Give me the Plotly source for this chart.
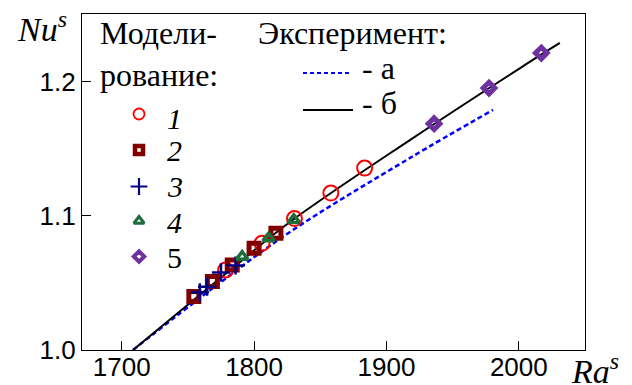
import plotly.graph_objects as go

# ---- simulation results (Ra^s, Nu^s) ----
ra_1 = [1778.5, 1806.0, 1830.5, 1858.0, 1883.5]
nu_1 = [1.0597, 1.0796, 1.0980, 1.1170, 1.1356]

ra_2 = [1754.5, 1768.5, 1783.5, 1800.0, 1816.5]
nu_2 = [1.0398, 1.0510, 1.0634, 1.0759, 1.0871]

ra_3 = [1759.0, 1764.5, 1775.0, 1786.0]
nu_3 = [1.0430, 1.0472, 1.0578, 1.0630]

ra_4 = [1791.0, 1811.0, 1830.0]
nu_4 = [1.0696, 1.0834, 1.0970]

ra_5 = [1936.0, 1977.5, 2017.0]
nu_5 = [1.1687, 1.1953, 1.2214]

# ---- experimental correlations ----
ra_exp_a = [1708.5, 1770.0, 1827.6, 1917.5, 1980.5]
nu_exp_a = [1.0000, 1.0470, 1.0883, 1.1430, 1.1790]

ra_exp_b = [1708.5, 1782.0, 1827.6, 1918.0, 2001.0, 2031.0]
nu_exp_b = [1.0000, 1.0597, 1.0958, 1.1567, 1.2102, 1.2289]

x_ticks = [1700, 1800, 1900, 2000]
y_ticks = [1.0, 1.1, 1.2]
y_tick_text = ["1.0", "1.1", "1.2"]

legend_numbers = ["<i>1</i>", "<i>2</i>", "<i>3</i>", "<i>4</i>", "5"]

RED = "#ff0000"
MAROON = "#800000"
NAVY = "#000080"
GREEN = "#1e6e3c"
PURPLE = "#6e32a0"
BLUE = "#0000ff"

W, H = 632, 385
ML, MR, MT, MB = 82, 47, 14, 35
PW, PH = W - ML - MR, H - MT - MB


def px(x):
    return (x - ML) / PW


def py(y):
    return (H - MB - y) / PH


fig = go.Figure()

# experimental curves
fig.add_trace(go.Scatter(x=ra_exp_a, y=nu_exp_a, mode="lines", line_shape="spline",
                         line=dict(color=BLUE, width=2.5, dash="5px,3px"),
                         showlegend=False, hoverinfo="skip"))
fig.add_trace(go.Scatter(x=ra_exp_b, y=nu_exp_b, mode="lines", line_shape="spline",
                         line=dict(color="black", width=2),
                         showlegend=False, hoverinfo="skip"))

series = [
    (ra_1, nu_1, dict(symbol="circle-open", size=15, color=RED, line=dict(width=2, color=RED))),
    (ra_2, nu_2, dict(symbol="square-open", size=10, color=MAROON, line=dict(width=5, color=MAROON))),
    (ra_3, nu_3, dict(symbol="cross-thin-open", size=13, color=NAVY, line=dict(width=2.5, color=NAVY))),
    (ra_4, nu_4, dict(symbol="triangle-up-open", size=10, color=GREEN, line=dict(width=3.5, color=GREEN))),
    (ra_5, nu_5, dict(symbol="diamond-open", size=9, color=PURPLE, line=dict(width=5, color=PURPLE))),
]
for xs, ys, mk in series:
    fig.add_trace(go.Scatter(x=xs, y=ys, mode="markers", marker=mk,
                             showlegend=False, hoverinfo="skip"))

# legend glyphs on an overlay axis measured in figure pixels
legend_y = [114, 150, 186.5, 221, 256.5]
legend_markers = [
    dict(symbol="circle-open", size=11, color=RED, line=dict(width=1.8, color=RED)),
    dict(symbol="square-open", size=8, color=MAROON, line=dict(width=4.5, color=MAROON)),
    dict(symbol="cross-thin-open", size=12, color=NAVY, line=dict(width=2.2, color=NAVY)),
    dict(symbol="triangle-up-open", size=9, color=GREEN, line=dict(width=3, color=GREEN)),
    dict(symbol="diamond-open", size=8, color=PURPLE, line=dict(width=4, color=PURPLE)),
]
for ly, mk in zip(legend_y, legend_markers):
    fig.add_trace(go.Scatter(x=[139], y=[ly], xaxis="x2", yaxis="y2", mode="markers",
                             marker=mk, showlegend=False, hoverinfo="skip"))

serif = "'Liberation Serif', 'Times New Roman', Times, serif"
sans = "'Liberation Sans', Arial, sans-serif"
ann = []


def text(x, y, s, size=32, family=serif, anchor="left"):
    ann.append(dict(x=px(x), y=py(y), xref="paper", yref="paper", text=s,
                    showarrow=False, xanchor=anchor, yanchor="middle",
                    font=dict(family=family, size=size, color="black")))


text(98, 33, "Модели-")
text(98, 75, "рование:")
text(256, 33, "Эксперимент:")
text(360, 68, "- а")
text(360, 103, "- б")
for ly, s in zip([118, 150, 187, 222, 257], legend_numbers):
    text(165, ly, s, size=30)
text(15, 27.5, "<i>Nu<sup>s</sup></i>", size=34)
text(569, 368.5, "<i>Ra<sup>s</sup></i>", size=34)
fig.update_layout(annotations=ann)

# legend line samples
fig.add_shape(type="line", xref="paper", yref="paper",
              x0=px(303), x1=px(351), y0=py(73), y1=py(73),
              line=dict(color=BLUE, width=2, dash="4px,3px"))
fig.add_shape(type="line", xref="paper", yref="paper",
              x0=px(303), x1=px(353), y0=py(110), y1=py(110),
              line=dict(color="black", width=2))

axis_common = dict(showgrid=False, zeroline=False, showline=True, linecolor="black",
                   linewidth=1.3, mirror=True, ticks="inside", ticklen=9,
                   tickwidth=1.2, tickcolor="black", automargin=False,
                   tickfont=dict(family=sans, size=26, color="black"))

fig.update_layout(
    width=W, height=H,
    margin=dict(l=ML, r=MR, t=MT, b=MB, autoexpand=False),
    paper_bgcolor="white", plot_bgcolor="white",
    xaxis=dict(range=[1670, 2050], tickvals=x_ticks, ticklabelstandoff=-6, **axis_common),
    yaxis=dict(range=[1.0, 1.2505], tickvals=y_ticks, ticktext=y_tick_text, **axis_common),
    xaxis2=dict(range=[ML, W - MR], overlaying="x", visible=False, fixedrange=True),
    yaxis2=dict(range=[H - MB, MT], overlaying="y", visible=False, fixedrange=True),
    showlegend=False,
)

fig.write_html("out.html")
